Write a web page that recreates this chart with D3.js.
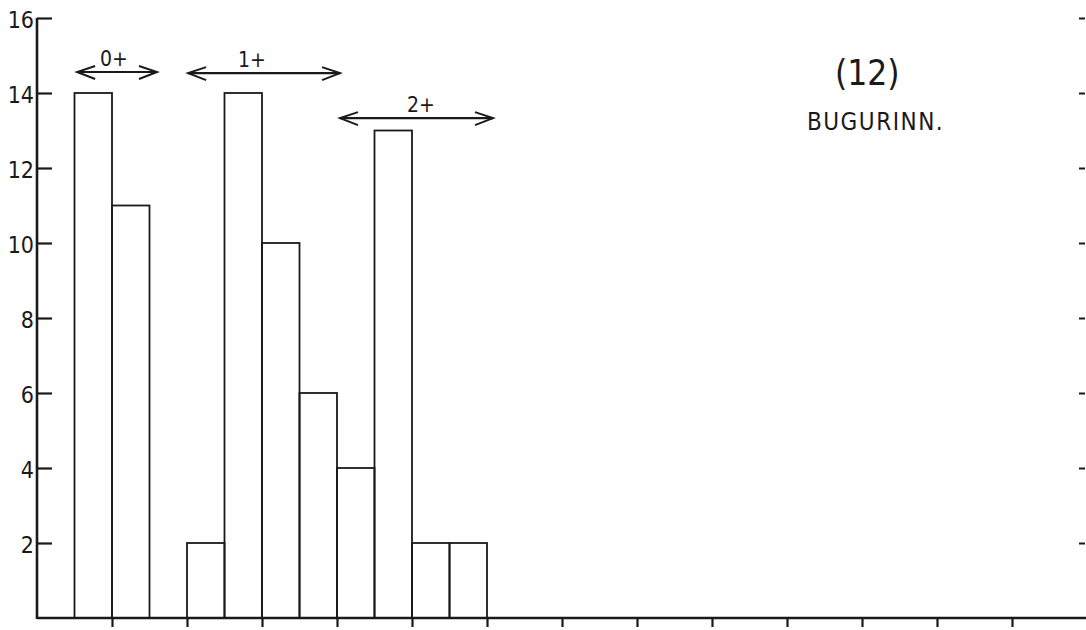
<!DOCTYPE html>
<html lang="en">
	<head>
		<meta charset="utf-8">
		<title></title>
		<script type="text/javascript" src="https://cdn.jsdelivr.net/npm/d3@7/dist/d3.min.js"></script>
		<style type="text/css">
			body { margin: 0; background: #fff; }
			text { font-family: "DejaVu Sans Condensed", "DejaVu Sans", sans-serif; font-stretch: condensed; fill: #1a1a1a; }
		</style>
	</head>
	<body>
		<script type="text/javascript">

			//Width and height
			var w = 1086;
			var h = 630;

			// histogram: count per length class (class index 0..11)
			var classes = [0, 1, 2, 3, 4, 5, 6, 7, 8, 9, 10, 11];
			var counts = [0, 14, 11, 0, 2, 14, 10, 6, 4, 13, 2, 2];

			// y tick labels
			var yTicks = [2, 4, 6, 8, 10, 12, 14, 16];
			// x tick positions (class boundaries), unlabeled
			var xTicks = [2, 4, 6, 8, 10, 12, 14, 16, 18, 20, 22, 24, 26, 28];

			// age groups drawn as double arrows: start/end/label in class units, level in count units
			var groupNames = ["0+", "1+", "2+"];
			var groupStart = [1.07, 4.03, 8.08];
			var groupEnd = [3.2, 8.08, 12.16];
			var groupLabelAt = [2.05, 5.73, 10.24];
			var groupLevel = [14.56, 14.53, 13.33];

			var titleNum = "(12)";
			var titleName = "BUGURINN.";

			var ink = "#1a1a1a";

			var xScale = d3.scaleLinear().domain([0, 28]).range([37, 1087]);
			var yScale = d3.scaleLinear().domain([0, 16]).range([618, 18]);

			let svg = d3.select("body")
						.append("svg")
						.attr("width", w)
						.attr("height", h);

			// bars
			svg.selectAll("rect.bar")
				.data(classes.filter(function(i) { return counts[i] > 0; }))
				.enter()
				.append("rect")
				.attr("class", "bar")
				.attr("x", function(i) { return xScale(i); })
				.attr("y", function(i) { return yScale(counts[i]); })
				.attr("width", function(i) { return xScale(i + 1) - xScale(i); })
				.attr("height", function(i) { return yScale(0) - yScale(counts[i]); })
				.attr("fill", "none")
				.attr("stroke", ink)
				.attr("stroke-width", 1.8);

			// left axis, ticks pointing inward
			var yAxis = d3.axisRight(yScale).tickValues(yTicks).tickSize(15).tickFormat("");
			var gy = svg.append("g")
				.attr("transform", "translate(" + xScale(0) + ",0)")
				.call(yAxis);
			gy.select(".domain").remove();
			gy.selectAll(".tick line").attr("stroke", ink).attr("stroke-width", 2.2);

			svg.append("line")
				.attr("x1", xScale(0)).attr("x2", xScale(0))
				.attr("y1", yScale(16)).attr("y2", yScale(0) + 1)
				.attr("stroke", ink).attr("stroke-width", 2.6);

			svg.selectAll("text.ylab")
				.data(yTicks)
				.enter()
				.append("text")
				.attr("class", "ylab")
				.attr("x", xScale(0) - 3)
				.attr("y", function(d) { return yScale(d) + 10; })
				.attr("text-anchor", "end")
				.style("font-size", "23px")
				.text(function(d) { return d; });

			// right axis, short ticks only
			var rAxis = d3.axisLeft(yScale).tickValues(yTicks).tickSize(6).tickFormat("");
			var gr = svg.append("g")
				.attr("transform", "translate(" + (w - 1) + ",0)")
				.call(rAxis);
			gr.select(".domain").remove();
			gr.selectAll(".tick line").attr("stroke", ink).attr("stroke-width", 2);

			// bottom axis
			var xAxis = d3.axisBottom(xScale).tickValues(xTicks).tickSize(9).tickFormat("");
			var gx = svg.append("g")
				.attr("transform", "translate(0," + yScale(0) + ")")
				.call(xAxis);
			gx.select(".domain").remove();
			gx.selectAll(".tick line").attr("stroke", ink).attr("stroke-width", 2.2);

			svg.append("line")
				.attr("x1", xScale(0)).attr("x2", w)
				.attr("y1", yScale(0)).attr("y2", yScale(0))
				.attr("stroke", ink).attr("stroke-width", 2.6);

			// age group arrows
			var groups = groupNames.map(function(n, i) {
				return { name: n, x1: xScale(groupStart[i]), x2: xScale(groupEnd[i]), xl: xScale(groupLabelAt[i]), y: yScale(groupLevel[i]) };
			});

			var ga = svg.selectAll("g.age")
				.data(groups)
				.enter()
				.append("g")
				.attr("class", "age");

			ga.append("line")
				.attr("x1", function(d) { return d.x1; })
				.attr("x2", function(d) { return d.x2; })
				.attr("y1", function(d) { return d.y; })
				.attr("y2", function(d) { return d.y; })
				.attr("stroke", ink).attr("stroke-width", 2.2);

			ga.append("path")
				.attr("d", function(d) {
					return "M" + (d.x1 + 18) + "," + (d.y - 6) + "L" + d.x1 + "," + d.y + "L" + (d.x1 + 18) + "," + (d.y + 7);
				})
				.attr("fill", "none").attr("stroke", ink).attr("stroke-width", 2);

			ga.append("path")
				.attr("d", function(d) {
					return "M" + (d.x2 - 18) + "," + (d.y - 6) + "L" + d.x2 + "," + d.y + "L" + (d.x2 - 18) + "," + (d.y + 7);
				})
				.attr("fill", "none").attr("stroke", ink).attr("stroke-width", 2);

			ga.append("text")
				.attr("x", function(d) { return d.xl; })
				.attr("y", function(d) { return d.y - 6; })
				.attr("text-anchor", "middle")
				.style("font-size", "21px")
				.text(function(d) { return d.name; });

			// title
			svg.append("text")
				.attr("x", 835)
				.attr("y", 85)
				.style("font-size", "35px")
				.text(titleNum);

			svg.append("text")
				.attr("x", 807)
				.attr("y", 130)
				.style("font-size", "24px")
				.style("letter-spacing", "1.5px")
				.text(titleName);

		</script>
	</body>
</html>
